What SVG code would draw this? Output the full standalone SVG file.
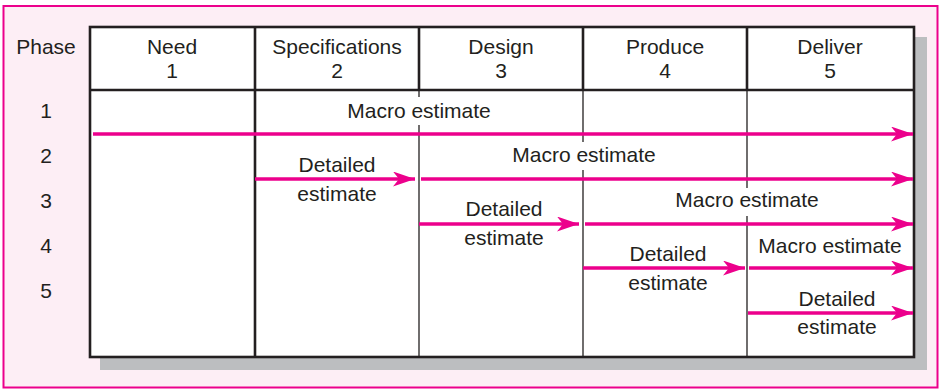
<svg xmlns="http://www.w3.org/2000/svg" width="941" height="389" viewBox="0 0 941 389">
<style>
text{font-family:"Liberation Sans",Arial,sans-serif;font-size:21px;fill:#231f20;text-anchor:middle}
.thick{stroke:#231f20;stroke-width:2.6;fill:none}
.thin{stroke:#231f20;stroke-width:1.3;fill:none}
.arr{stroke:#ec008c;stroke-width:3.5;fill:none}
.mask{fill:#ffffff}
</style>
<defs>
<marker id="ah" markerUnits="userSpaceOnUse" markerWidth="24" markerHeight="16" refX="22" refY="7.5" orient="auto" viewBox="0 0 24 16">
<path d="M22,7.5 L0,0 L6,7.5 L0,15 Z" fill="#ec008c"/>
</marker>
</defs>
<rect x="3.5" y="6" width="934" height="381.5" fill="#fdeef5" stroke="#ec008c" stroke-width="2"/>
<rect x="100" y="37" width="827" height="333" fill="#bcbec0"/>
<g id="table">
<rect x="90" y="27" width="824" height="330" fill="#ffffff"/>
<line class="thin" x1="419" y1="90" x2="419" y2="357"/>
<line class="thin" x1="583" y1="90" x2="583" y2="357"/>
<line class="thin" x1="747" y1="90" x2="747" y2="357"/>
<line class="thick" x1="255" y1="27" x2="255" y2="357"/>
<line class="thick" x1="419" y1="27" x2="419" y2="90"/>
<line class="thick" x1="583" y1="27" x2="583" y2="90"/>
<line class="thick" x1="747" y1="27" x2="747" y2="90"/>
<line class="thick" x1="90" y1="90" x2="914" y2="90"/>
<rect class="thick" x="90" y="27" width="824" height="330"/>
</g>
<g id="headers">
<text x="46" y="54">Phase</text>
<text x="172" y="54">Need</text><text x="172" y="78">1</text>
<text x="337" y="54">Specifications</text><text x="337" y="78">2</text>
<text x="501" y="54">Design</text><text x="501" y="78">3</text>
<text x="665" y="54">Produce</text><text x="665" y="78">4</text>
<text x="830" y="54">Deliver</text><text x="830" y="78">5</text>
</g>
<g id="rows">
<text x="46" y="118">1</text>
<text x="46" y="163">2</text>
<text x="46" y="208">3</text>
<text x="46" y="253">4</text>
<text x="46" y="298">5</text>
</g>
<g id="connectors">
<line class="arr" x1="93" y1="134" x2="913" y2="134" marker-end="url(#ah)"/>
<line class="arr" x1="255" y1="179" x2="415" y2="179" marker-end="url(#ah)"/>
<line class="arr" x1="421" y1="179" x2="913" y2="179" marker-end="url(#ah)"/>
<line class="arr" x1="419" y1="224" x2="579" y2="224" marker-end="url(#ah)"/>
<line class="arr" x1="585" y1="224" x2="913" y2="224" marker-end="url(#ah)"/>
<line class="arr" x1="583" y1="268" x2="745" y2="268" marker-end="url(#ah)"/>
<line class="arr" x1="749" y1="268" x2="913" y2="268" marker-end="url(#ah)"/>
<line class="arr" x1="748" y1="313" x2="913" y2="313" marker-end="url(#ah)"/>
</g>
<g id="labels">
<rect class="mask" x="345" y="97" width="148" height="28"/>
<text x="419" y="118">Macro estimate</text>
<rect class="mask" x="510" y="142" width="148" height="28"/>
<text x="584" y="162">Macro estimate</text>
<rect class="mask" x="673" y="188" width="148" height="28"/>
<text x="747" y="207">Macro estimate</text>
<text x="830" y="253">Macro estimate</text>
<text x="337" y="172">Detailed</text><text x="337" y="201">estimate</text>
<text x="504" y="216">Detailed</text><text x="504" y="245">estimate</text>
<text x="668" y="261">Detailed</text><text x="668" y="290">estimate</text>
<text x="837" y="306">Detailed</text><text x="837" y="334">estimate</text>
</g>
</svg>
